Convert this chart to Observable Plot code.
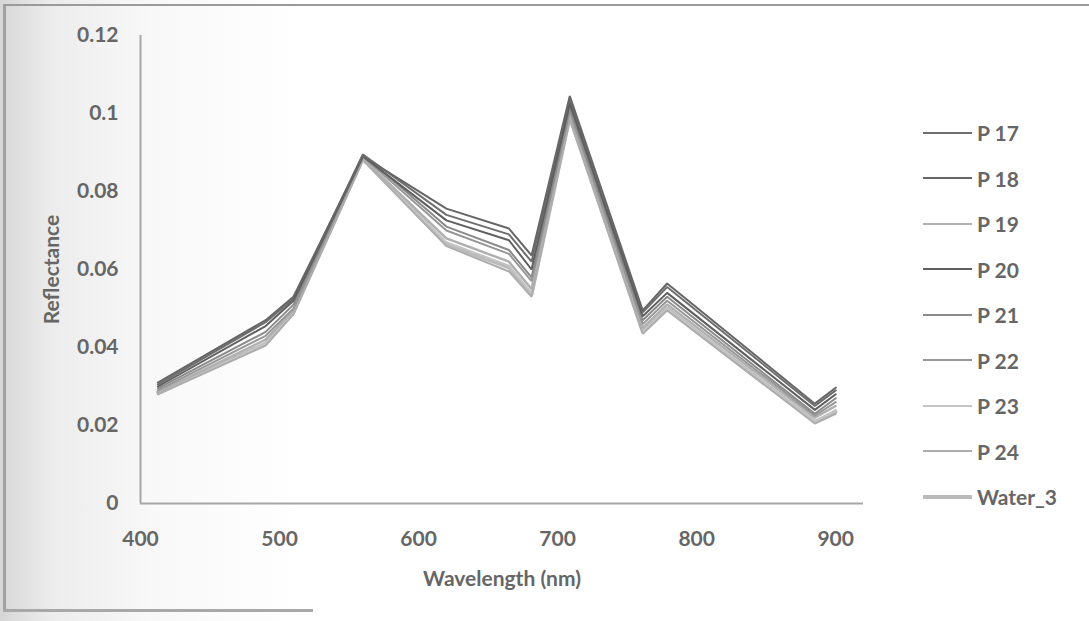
<!DOCTYPE html>
<html>
<head>
<meta charset="utf-8">
<script src="https://cdn.jsdelivr.net/npm/d3@7"></script>
<script src="https://cdn.jsdelivr.net/npm/@observablehq/plot@0.6"></script>
<style>
  html, body { margin: 0; padding: 0; }
  body { width: 1089px; height: 621px; overflow: hidden; position: relative;
         background: linear-gradient(to right, #d6d6d6 0px, #ececec 50px, #f8f8f8 150px, #ffffff 300px); }
  #frame { position: absolute; left: 3px; top: 4px; width: 1090px; height: 606px;
           border-top: 2px solid #9a9a9a; border-left: 3px solid #a0a0a0; }
  #frameBottom { position: absolute; left: 3px; top: 609px; width: 310px; height: 0;
           border-top: 3px solid #a8a8a8; }
  #chart { position: absolute; left: 0; top: 0; }
  #legend { position: absolute; left: 923px; top: 110px; font-family: Lato, "Open Sans", sans-serif;
            font-size: 21px; font-weight: 700; color: #666; }
  .item { height: 45.5px; display: flex; align-items: center; }
  .swatch { width: 49px; margin-right: 5px; }
</style>
</head>
<body>
<div id="frame"></div>
<div id="frameBottom"></div>
<div id="chart"></div>
<div id="legend"></div>
<script>
// Sentinel-3 OLCI band centres (nm)
const wavelengths = [412.5, 490, 510, 560, 620, 665, 681.25, 708.75, 761.25, 778.75, 885, 900];

const seriesNames = ["P 17", "P 18", "P 19", "P 20", "P 21", "P 22", "P 23", "P 24", "Water_3"];

const p17 = [0.0305, 0.0465, 0.0525, 0.0895, 0.0740, 0.0690, 0.0620, 0.1035, 0.0490, 0.0555, 0.0250, 0.0290];
const p18 = [0.0310, 0.0470, 0.0530, 0.0890, 0.0756, 0.0705, 0.0636, 0.1045, 0.0495, 0.0564, 0.0256, 0.0297];
const p19 = [0.0285, 0.0420, 0.0495, 0.0885, 0.0680, 0.0620, 0.0550, 0.0995, 0.0450, 0.0510, 0.0220, 0.0250];
const p20 = [0.0300, 0.0455, 0.0520, 0.0890, 0.0726, 0.0675, 0.0600, 0.1025, 0.0480, 0.0540, 0.0240, 0.0280];
const p21 = [0.0295, 0.0440, 0.0510, 0.0895, 0.0710, 0.0650, 0.0580, 0.1015, 0.0470, 0.0530, 0.0230, 0.0270];
const p22 = [0.0290, 0.0430, 0.0500, 0.0890, 0.0700, 0.0640, 0.0570, 0.1005, 0.0460, 0.0520, 0.0225, 0.0260];
const p23 = [0.0280, 0.0410, 0.0490, 0.0880, 0.0670, 0.0610, 0.0540, 0.0990, 0.0440, 0.0500, 0.0210, 0.0240];
const p24 = [0.0280, 0.0405, 0.0485, 0.0880, 0.0660, 0.0595, 0.0530, 0.0985, 0.0435, 0.0495, 0.0205, 0.0230];
const water3 = [0.0285, 0.0410, 0.0490, 0.0885, 0.0665, 0.0605, 0.0535, 0.0990, 0.0440, 0.0500, 0.0210, 0.0235];

const seriesValues = [p17, p18, p19, p20, p21, p22, p23, p24, water3];
const seriesColors = ["#6e6e6e", "#666666", "#b0b0b0", "#5f5f5f", "#8a8a8a", "#979797", "#c4c4c4", "#adadad", "#bababa"];
const seriesWidths = [2, 2, 2.5, 2, 2, 2, 2, 2, 3.5];

const xTicks = [400, 500, 600, 700, 800, 900];
const yTicks = [0, 0.02, 0.04, 0.06, 0.08, 0.1, 0.12];
const yTickLabels = ["0", "0.02", "0.04", "0.06", "0.08", "0.1", "0.12"];

const rows = [];
seriesNames.forEach((name, i) => {
  wavelengths.forEach((w, j) => rows.push({series: name, wavelength: w, value: seriesValues[i][j]}));
});

// draw lighter / thicker lines first so darker lines are on top
const drawOrder = [8, 6, 2, 7, 5, 4, 0, 3, 1];

const chart = Plot.plot({
  width: 1089,
  height: 621,
  marginLeft: 140,
  marginRight: 226,
  marginTop: 35,
  marginBottom: 118,
  style: {fontFamily: "Lato, 'Open Sans', sans-serif", fontSize: "21px", fontWeight: 700, color: "#666", background: "transparent"},
  x: {domain: [400, 920]},
  y: {domain: [0, 0.12]},
  color: {domain: seriesNames, range: seriesColors},
  marks: [
    Plot.ruleX([400], {stroke: "#a6a6a6", strokeWidth: 2}),
    Plot.ruleY([0], {stroke: "#a6a6a6", strokeWidth: 2}),
    Plot.axisY({ticks: yTicks, tickFormat: d => yTickLabels[yTicks.indexOf(d)], tickSize: 0, tickPadding: 22,
                label: "Reflectance", labelAnchor: "center", labelOffset: 96, labelArrow: "none"}),
    Plot.axisX({ticks: xTicks, tickFormat: d => String(d), tickSize: 0, tickPadding: 28,
                label: "Wavelength (nm)", labelAnchor: "center", labelOffset: 82, labelArrow: "none"}),
    ...drawOrder.map(i => Plot.line(rows.filter(r => r.series === seriesNames[i]), {
      x: "wavelength", y: "value", stroke: "series", strokeWidth: seriesWidths[i], strokeLinejoin: "miter"
    }))
  ]
});
document.getElementById("chart").appendChild(chart);

const legend = document.getElementById("legend");
seriesNames.forEach((name, i) => {
  const item = document.createElement("div");
  item.className = "item";
  const sw = document.createElement("div");
  sw.className = "swatch";
  sw.style.height = seriesWidths[i] + "px";
  sw.style.background = seriesColors[i];
  const label = document.createElement("span");
  label.textContent = name;
  item.appendChild(sw);
  item.appendChild(label);
  legend.appendChild(item);
});
</script>
</body>
</html>
